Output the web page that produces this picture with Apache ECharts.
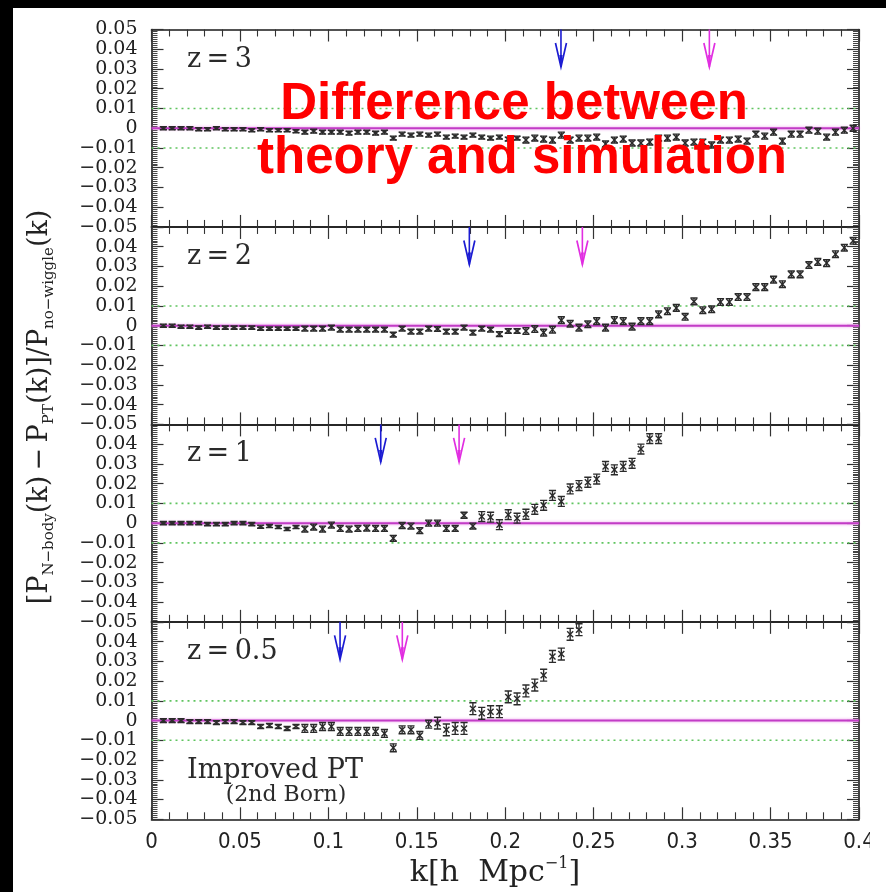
<!DOCTYPE html>
<html><head><meta charset="utf-8">
<script src="https://cdn.jsdelivr.net/npm/echarts@6/dist/echarts.min.js"></script>
<style>
html,body{margin:0;padding:0;background:#fff;overflow:hidden;width:886px;height:892px}
#c{position:absolute;left:0;top:0;width:886px;height:892px}
.bar{position:absolute;background:#000;z-index:20}
.cover{position:absolute;background:#fff;z-index:15}
</style>
</head><body><div id="c"></div>
<div class="bar" style="left:0;top:0;width:886px;height:8px"></div>
<div class="bar" style="left:0;top:0;width:13px;height:892px"></div>
<div class="cover" style="left:870px;top:8px;width:16px;height:884px"></div>
<div class="cover" style="left:861px;top:8px;width:9px;height:820px"></div>
<div class="cover" style="left:861px;top:858px;width:9px;height:34px"></div>
<script>
// ---------------- data ----------------
const K = [0.0067,0.0117,0.0167,0.0217,0.0267,0.0317,0.0367,0.0417,0.0467,0.0517,
0.0567,0.0617,0.0667,0.0717,0.0767,0.0817,0.0867,0.0917,0.0967,0.1017,
0.1067,0.1117,0.1167,0.1217,0.1267,0.1317,0.1367,0.1417,0.1467,0.1517,
0.1567,0.1617,0.1667,0.1717,0.1767,0.1817,0.1867,0.1917,0.1967,0.2017,
0.2067,0.2117,0.2167,0.2217,0.2267,0.2317,0.2367,0.2417,0.2467,0.2517,
0.2567,0.2617,0.2667,0.2717,0.2767,0.2817,0.2867,0.2917,0.2967,0.3017,
0.3067,0.3117,0.3167,0.3217,0.3267,0.3317,0.3367,0.3417,0.3467,0.3517,
0.3567,0.3617,0.3667,0.3717,0.3767,0.3817,0.3867,0.3917,0.3967];

const Z3 = [0,0,0,0,-0.0005,-0.0005,0,-0.0005,-0.0005,
-0.0005,-0.001,-0.0005,-0.001,-0.001,-0.001,-0.0015,
-0.002,-0.0015,-0.002,-0.002,-0.002,-0.0025,-0.002,-0.002,-0.0025,-0.002,
-0.005,
-0.003,-0.0035,-0.003,-0.0035,-0.003,
-0.0045,-0.004,-0.0045,-0.0035,
-0.0045,-0.005,-0.0045,-0.0055,-0.005,-0.006,-0.005,-0.0055,-0.006,
-0.0035,
-0.006,-0.005,-0.005,-0.0045,
-0.008,
-0.006,-0.0055,
-0.0075,-0.0075,-0.007,
-0.005,-0.005,-0.0045,
-0.0075,-0.007,-0.007,-0.0085,
-0.006,-0.006,-0.0055,-0.0065,
-0.003,-0.004,-0.002,-0.0065,-0.003,-0.003,-0.001,-0.0015,-0.0045,-0.002,-0.001,0];

const Z2 = [0,0,-0.0005,-0.0005,-0.001,-0.0005,-0.001,-0.001,-0.001,-0.001,
-0.001,-0.0015,-0.0015,-0.0015,-0.0015,-0.0015,-0.0015,-0.0015,-0.0015,
-0.001,
-0.002,-0.002,-0.002,-0.002,-0.002,-0.002,
-0.0045,
-0.0015,-0.003,-0.003,-0.0015,-0.0017,-0.003,-0.003,-0.001,-0.0035,-0.0015,-0.002,-0.0043,-0.0027,-0.0027,
-0.0027,-0.0017,-0.0035,-0.002,0.0028,0.001,-0.001,0.0007,0.0023,-0.001,0.0028,0.0023,-0.0005,0.0023,0.0023,
0.0057,0.0073,0.009,0.0045,0.0123,0.0078,0.0083,0.012,0.012,0.0145,0.0145,0.0195,0.0195,0.0233,0.021,
0.026,0.026,0.0307,0.0323,0.0317,0.0362,0.0395,0.043];

const Z1 = [0,0,0,0,0,-0.0005,-0.0005,-0.0005,0,0,-0.0005,
-0.0018,-0.0015,-0.002,
-0.003,-0.002,-0.003,-0.002,-0.003,
-0.001,
-0.0027,-0.003,-0.0027,-0.0025,-0.0027,-0.0027,
-0.0077,
-0.0012,-0.0015,-0.0038,0,0,-0.0027,-0.0027,0.004,-0.0015,0.0033,0.003,-0.0008,0.0043,0.0025,
0.0045,0.007,0.009,0.014,0.011,0.0173,0.019,0.0207,0.0223,0.0287,0.027,0.0287,0.0303,0.0375,0.0428,0.0428];

const Z05 = [0,0,0,-0.0005,-0.0005,-0.0005,-0.001,-0.0005,-0.0005,-0.001,-0.001,
-0.003,-0.0025,-0.003,
-0.004,-0.003,-0.004,-0.004,-0.003,
-0.003,
-0.0055,-0.0055,-0.0055,-0.0055,-0.0055,-0.0065,
-0.0138,
-0.0047,-0.0047,-0.0075,-0.0018,-0.0013,-0.0047,-0.004,-0.004,0.006,0.0037,0.0045,0.0045,
0.012,0.011,0.015,0.018,0.023,0.0325,0.0337,0.0437,0.046];

const ERR_Z3 = [0.0008,0.0008,0.0008,0.0008,0.0008,0.0008,0.0008,0.0008,0.0008,0.0008,0.0008,0.0008,0.0008,0.0008,0.0008,0.0008,
0.001,0.001,0.001,0.001,0.001,0.001,0.001,0.001,0.001,0.001,0.001,0.001,0.001,0.001,0.001,0.001,0.001,0.001,0.001,0.001,0.001,0.001,0.001,0.001,0.001,
0.0015,0.0015,0.0015,0.0015,0.0015,0.0015,0.0015,0.0015,0.0015,0.0015,0.0015,0.0015,0.0015,0.0015,0.0015,0.0015,0.0015,0.0015,0.0015,
0.0015,0.0015,0.0015,0.0015,0.0015,0.0015,0.0015,0.0015,0.0015,0.0015,0.0015,0.0015,0.0015,0.0015,0.0015,0.0015,0.0015,0.0015,0.0015];
const ERR_Z2 = [0.0008,0.0008,0.0008,0.0008,0.0008,0.0008,0.0008,0.0008,0.0008,0.0008,0.0008,0.0008,0.0008,0.0008,0.0008,0.0008,
0.0012,0.0012,0.0012,0.0012,0.0012,0.0012,0.0012,0.0012,0.0012,0.0012,0.0012,0.0012,0.0012,0.0012,0.0012,0.0012,0.0012,0.0012,0.0012,0.0012,0.0012,0.0012,0.0012,0.0012,0.0012,
0.0017,0.0017,0.0017,0.0017,0.0017,0.0017,0.0017,0.0017,0.0017,0.0017,0.0017,0.0017,0.0017,0.0017,0.0017,0.0017,0.0017,0.0017,0.0017,
0.0017,0.0017,0.0017,0.0017,0.0017,0.0017,0.0017,0.0017,0.0017,0.0017,0.0017,0.0017,0.0017,0.0017,0.0017,0.0017,0.0017,0.0017,0.0017];
const ERR_Z1 = [0.0008,0.0008,0.0008,0.0008,0.0008,0.0008,0.0008,0.0008,0.0008,0.0008,0.0008,0.0008,0.0008,0.0008,0.0008,0.0008,
0.0015,0.0015,0.0015,0.0015,0.0015,0.0015,0.0015,0.0015,0.0015,0.0015,0.0015,0.0015,0.0015,0.0015,0.0015,0.0015,0.0015,0.0015,0.0015,0.0015,
0.0025,0.0025,0.0025,0.0025,0.0025,0.0025,0.0025,0.0025,0.0025,0.0025,0.0025,0.0025,0.0025,0.0025,0.0025,0.0025,0.0025,0.0025,0.0025,0.0025,0.0025];
const ERR_Z05 = [0.001,0.001,0.001,0.001,0.001,0.001,0.001,0.001,0.001,0.001,0.001,0.001,0.001,0.001,0.001,0.001,
0.002,0.002,0.002,0.002,0.002,0.002,0.002,0.002,0.002,0.002,0.002,0.002,0.002,0.002,0.002,
0.003,0.003,0.003,0.003,0.003,0.003,0.003,0.003,0.003,0.003,0.003,0.003,0.003,0.003,0.003,0.003,0.003];

const PANEL_LABELS = ['z\u2009=\u20093', 'z\u2009=\u20092', 'z\u2009=\u20091', 'z\u2009=\u20090.5'];
const ARROW_BLUE_K = [0.2315, 0.1797, 0.1296, 0.1066];
const ARROW_MAGENTA_K = [0.3154, 0.2436, 0.1739, 0.1418];
const ARROW_TIP = 0.031;
const REF_ZERO = 0, REF_BAND = [0.01, -0.01];
const X_RANGE = [0, 0.4];
const Y_RANGE = [-0.05, 0.05];
const Y_TICKS = [0.05,0.04,0.03,0.02,0.01,0,-0.01,-0.02,-0.03,-0.04,-0.05];
const Y_TICK_LABELS = ['0.05','0.04','0.03','0.02','0.01','0','\u22120.01','\u22120.02','\u22120.03','\u22120.04','\u22120.05'];
const X_TICKS = [0,0.05,0.1,0.15,0.2,0.25,0.3,0.35,0.4];
const X_TICK_LABELS = ['0','0.05','0.1','0.15','0.2','0.25','0.3','0.35','0.4'];

const SERIES_VALUES = [Z3, Z2, Z1, Z05];
const SERIES_ERRS = [ERR_Z3, ERR_Z2, ERR_Z1, ERR_Z05];

// ---------------- layout / style ----------------
const TOPS = [29.5, 226.95, 424.4, 621.85];
const PH = 197.45;
const LEFT = 151.5, RIGHT_EDGE = 859;
const AXC = '#1a1a1a';

const grids = [], xAxes = [], yAxes = [], series = [];

function lookup(ticks, v){
  for (let i=0;i<ticks.length;i++) if (Math.abs(ticks[i]-v) < 1e-6) return i;
  return -1;
}

function pointItem(params, api){
  const k = api.value(0), v = api.value(1), e = api.value(2);
  const c = api.coord([k, v]);
  const yt = api.coord([k, v + e])[1];
  const yb = api.coord([k, v - e])[1];
  const w = 3.6, hx = Math.min(c[1] - yt, 3.0), wx = 3.0;
  const L = (x1,y1,x2,y2) => ({type:'line', shape:{x1,y1,x2,y2}, style:{stroke:'#2b2b2b', lineWidth:1.4}});
  return {type:'group', children:[
    L(c[0]-w, yt, c[0]+w, yt),
    L(c[0]-w, yb, c[0]+w, yb),
    L(c[0], yt, c[0], yb),
    L(c[0]-wx, c[1]-hx, c[0]+wx, c[1]+hx),
    L(c[0]+wx, c[1]-hx, c[0]-wx, c[1]+hx)
  ]};
}
function arrowItem(color){
  return function(params, api){
    const k = api.value(0);
    const tip = api.coord([k, api.value(1)]);
    const top = api.coord([k, api.value(2)]);
    return {type:'group', children:[
      {type:'line', shape:{x1:tip[0], y1:top[1], x2:tip[0], y2:tip[1]}, style:{stroke:color, lineWidth:1.6}},
      {type:'polyline', shape:{points:[[tip[0]-5.5, tip[1]-24],[tip[0], tip[1]],[tip[0]+5.5, tip[1]-24]]}, style:{stroke:color, lineWidth:1.7, fill:'none'}},
      {type:'polygon', shape:{points:[[tip[0]-1.6, tip[1]-12],[tip[0], tip[1]],[tip[0]+1.6, tip[1]-12]]}, style:{fill:color}}
    ]};
  };
}

for (let p = 0; p < 4; p++) {
  grids.push({left: LEFT, width: RIGHT_EDGE - LEFT, top: TOPS[p], height: PH, containLabel:false});
  const xBase = {
    type:'value', gridIndex:p, min:X_RANGE[0], max:X_RANGE[1], interval:0.05,
    axisLine:{show:true, onZero:false, lineStyle:{color:AXC, width:1.6}},
    axisTick:{show:true, inside:true, length:12, lineStyle:{color:'#333', width:1.2}},
    minorTick:{show:true, splitNumber:5, length:7, lineStyle:{color:'#333', width:1.1}},
    splitLine:{show:false}
  };
  xAxes.push(Object.assign({}, xBase, {position:'bottom',
    axisLabel:{show: p===3, margin:12, color:'#222', fontSize:22, showMinLabel:true, showMaxLabel:true,
      fontFamily:"'Liberation Sans Narrow','DejaVu Sans Condensed','Liberation Sans',sans-serif",
      formatter:(v)=>{const i=lookup(X_TICKS,v); return i>=0?X_TICK_LABELS[i]:'';}}}));
  xAxes.push(Object.assign({}, xBase, {position:'top', axisLabel:{show:false}}));
  const yBase = {
    type:'value', gridIndex:p, min:Y_RANGE[0], max:Y_RANGE[1], interval:0.01,
    axisLine:{show:true, onZero:false, lineStyle:{color:AXC, width:1.6}},
    axisTick:{show:true, inside:true, length:12, lineStyle:{color:'#333', width:1.2}},
    minorTick:{show:true, splitNumber:10, length:6, lineStyle:{color:'#444', width:1}},
    splitLine:{show:false}
  };
  yAxes.push(Object.assign({}, yBase, {position:'left',
    axisLabel:{show:true, margin:14, color:'#222', fontSize:19, lineHeight:19, showMinLabel:true, showMaxLabel:true,
      fontFamily:"'DejaVu Serif',serif",
      formatter:(v)=>{const i=lookup(Y_TICKS,v); if(i<0) return ''; if(p>0 && i===0) return ''; return Y_TICK_LABELS[i];}}}));
  yAxes.push(Object.assign({}, yBase, {position:'right', axisLabel:{show:false}}));

  const xi = 2*p, yi = 2*p;
  REF_BAND.forEach(lv => series.push({type:'line', xAxisIndex:xi, yAxisIndex:yi, silent:true, showSymbol:false, z:1,
    data:[[X_RANGE[0], lv],[X_RANGE[1], lv]], lineStyle:{color:'#5fc45f', width:1.6, type:[2,4]}}));
  series.push({type:'line', xAxisIndex:xi, yAxisIndex:yi, silent:true, showSymbol:false, z:2,
    data:[[X_RANGE[0], REF_ZERO],[X_RANGE[1], REF_ZERO]],
    lineStyle:{color:'#c23cc6', width:2, shadowColor:'rgba(235,130,235,0.9)', shadowBlur:3}});
  const vals = SERIES_VALUES[p], errs = SERIES_ERRS[p];
  series.push({type:'custom', xAxisIndex:xi, yAxisIndex:yi, clip:true, z:5, silent:true,
    data: vals.map((v,i)=>[K[i], v, errs[i]]), renderItem: pointItem});
  series.push({type:'custom', xAxisIndex:xi, yAxisIndex:yi, z:6, silent:true,
    data:[[ARROW_BLUE_K[p], ARROW_TIP, Y_RANGE[1]]], renderItem: arrowItem('#1b1bd2')});
  series.push({type:'custom', xAxisIndex:xi, yAxisIndex:yi, z:6, silent:true,
    data:[[ARROW_MAGENTA_K[p], ARROW_TIP, Y_RANGE[1]]], renderItem: arrowItem('#e12ee1')});
}

const LABEL_FONT = "'DejaVu Serif',serif";
const graphic = [];
PANEL_LABELS.forEach((t,p)=>{
  graphic.push({type:'text', x:187, y:TOPS[p]+30, z:50,
    style:{text:t, font:"27px "+LABEL_FONT, fill:'#2a2a2a', align:'left', verticalAlign:'middle'}});
});
graphic.push({type:'text', x:187, y:771, z:50,
  style:{text:'Improved PT', font:"27px "+LABEL_FONT, fill:'#2a2a2a', align:'left', verticalAlign:'middle'}});
graphic.push({type:'text', x:286, y:795, z:50,
  style:{text:'(2nd Born)', font:"22px "+LABEL_FONT, fill:'#2a2a2a', align:'center', verticalAlign:'middle'}});
graphic.push({type:'text', x:514, y:105, z:60,
  style:{text:'Difference between', font:"bold 51px 'Liberation Sans',Arial,sans-serif", fill:'#ff0000', align:'center', verticalAlign:'middle'}});
graphic.push({type:'text', x:522, y:159, z:60,
  style:{text:'theory and simulation', font:"bold 51px 'Liberation Sans',Arial,sans-serif", fill:'#ff0000', align:'center', verticalAlign:'middle'}});
graphic.push({type:'text', x:495, y:873, z:50,
  style:{text:'k[h  Mpc{sup|\u22121}]', font:"30px "+LABEL_FONT, fill:'#222', align:'center', verticalAlign:'middle',
    lineHeight:34,
    rich:{sup:{fontSize:16, fontFamily:'DejaVu Serif', verticalAlign:'top', lineHeight:16, fill:'#222'}}}});
graphic.push({type:'text', x:40, y:407, rotation:Math.PI/2, z:50,
  style:{text:'[P{sub|N\u2212body}(k)\u2009\u2212\u2009P{sub|PT}(k)]/P{sub|no\u2212wiggle}(k)',
    font:"27px "+LABEL_FONT, fill:'#222', align:'center', verticalAlign:'middle', lineHeight:34,
    rich:{sub:{fontSize:15, fontFamily:'DejaVu Serif', verticalAlign:'bottom', lineHeight:15, fill:'#222'}}}});

const chart = echarts.init(document.getElementById('c'), null, {renderer:'canvas', width:886, height:892});
chart.setOption({
  backgroundColor:'#ffffff',
  animation:false,
  grid:grids, xAxis:xAxes, yAxis:yAxes, series:series, graphic:graphic
});
</script></body></html>
